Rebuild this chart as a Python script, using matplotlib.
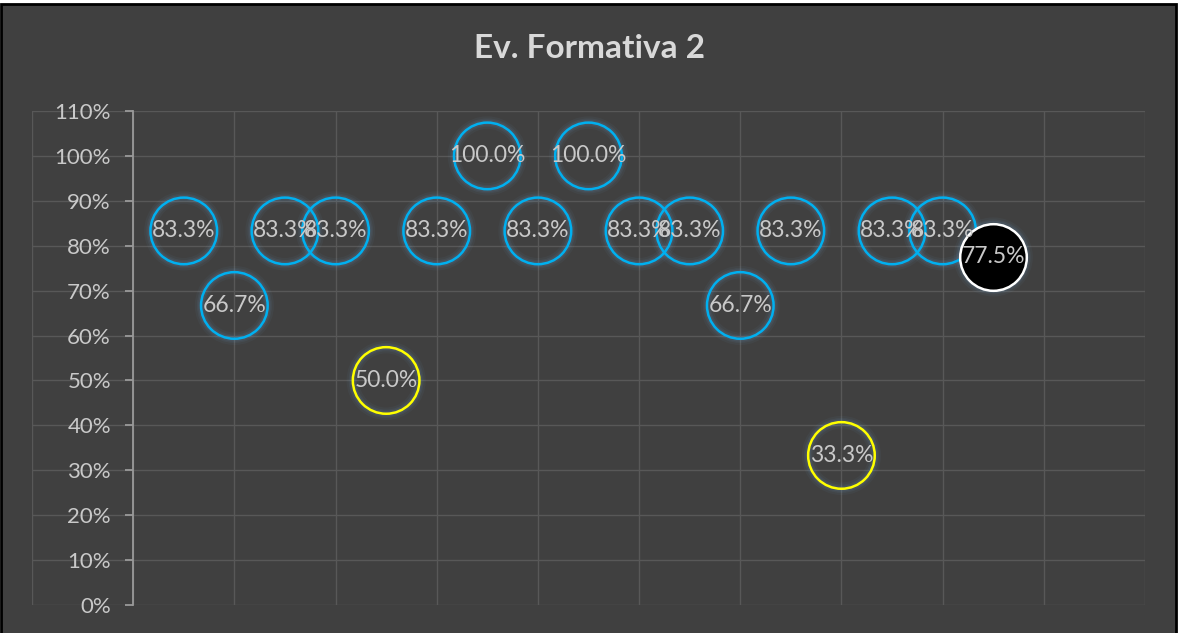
import matplotlib.pyplot as plt
from matplotlib.patches import Rectangle

# puntajes de la evaluacion formativa 2 (ultimo punto = promedio del curso)
pos_x = [0.5, 1.0, 1.5, 2.0, 2.5, 3.0, 3.5, 4.0, 4.5, 5.0, 5.5, 6.0, 6.5, 7.0, 7.5, 8.0, 8.5]
puntaje = [0.833, 0.667, 0.833, 0.833, 0.500, 0.833, 1.000, 0.833, 1.000,
           0.833, 0.833, 0.667, 0.833, 0.333, 0.833, 0.833, 0.775]
tipo = ['alumno'] * 16 + ['promedio']
titulo = 'Ev. Formativa 2'

BG = '#404040'
TXT = '#c9c9c9'
GRID = '#585858'

plt.rcParams['font.family'] = ['Lato', 'DejaVu Sans']

fig = plt.figure(figsize=(11.8, 6.33), dpi=100, facecolor='white')
# chart area with black frame, cut by the sheet at the top and right
fig.patches.append(Rectangle((1 / 1180, -0.01), 1175 / 1180, 1 - 4 / 633 + 0.01,
                             transform=fig.transFigure, facecolor=BG,
                             edgecolor='black', linewidth=2, zorder=-1))

ax = fig.add_axes([32 / 1180, 28 / 633, (1145 - 32) / 1180, (605 - 111) / 633])
ax.set_facecolor(BG)
ax.patch.set_alpha(0)

ax.set_xlim(-1, 10)
ax.set_ylim(0, 1.1)
ax.set_xticks(range(-1, 11))
ax.set_yticks([i / 10 for i in range(12)])
ax.set_yticklabels([f'{i * 10}%' for i in range(12)])
ax.grid(True, color=GRID, linewidth=1)
ax.set_axisbelow(True)

for s in ['top', 'right', 'bottom']:
    ax.spines[s].set_visible(False)
ax.spines['left'].set_position(('data', 0))
ax.spines['left'].set_color('#9a9a9a')
ax.spines['left'].set_linewidth(1.3)
ax.tick_params(axis='x', length=0, labelbottom=False)
ax.tick_params(axis='y', direction='out', length=6, width=1.3, color='#9a9a9a',
               labelcolor=TXT, labelsize=16, pad=10)

size = 2300
for i in range(len(puntaje)):
    if tipo[i] == 'promedio':
        face, edge = 'black', 'white'
    elif puntaje[i] < 0.6:
        face, edge = 'none', '#ffff00'
    else:
        face, edge = 'none', '#00b0f0'
    # soft glow
    for lw, a in [(9, 0.05), (6, 0.07), (4, 0.09)]:
        ax.scatter(pos_x[i], puntaje[i], s=size, facecolors='none',
                   edgecolors='#6fa8dc', linewidths=lw, alpha=a, zorder=2)
    ax.scatter(pos_x[i], puntaje[i], s=size, facecolors=face,
               edgecolors=edge, linewidths=1.8, zorder=3)

for i in range(len(puntaje)):
    ax.text(pos_x[i], puntaje[i], f'{puntaje[i]:.1%}', ha='center', va='center',
            color=TXT, fontsize=16.5, zorder=5)

fig.text(0.5, 1 - 48 / 633, titulo, ha='center', va='center', color='#d9d9d9',
         fontsize=24, fontweight='bold')

fig.savefig('out.png', dpi=100, facecolor='white')
